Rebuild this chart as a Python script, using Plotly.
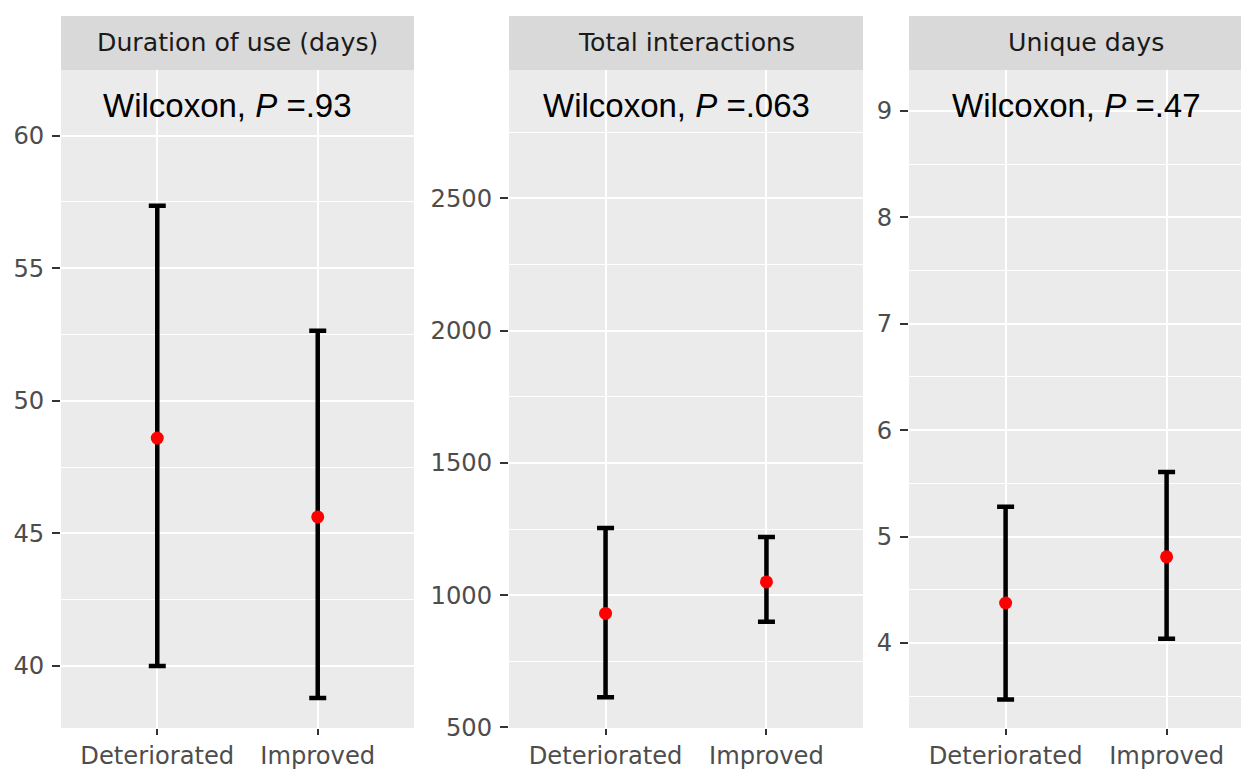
import plotly.graph_objects as go

# ---- data ----
categories = ["Deteriorated", "Improved"]
panel_titles = ["Duration of use (days)", "Total interactions", "Unique days"]
p_labels = ["Wilcoxon, <i>P</i> =.93", "Wilcoxon, <i>P</i> =.063", "Wilcoxon, <i>P</i> =.47"]

duration_mean = [48.59, 45.62]
duration_low = [40.0, 38.79]
duration_high = [57.35, 52.64]

interactions_mean = [931, 1050]
interactions_low = [614, 900]
interactions_high = [1254, 1220]

unique_mean = [4.376, 4.81]
unique_low = [3.47, 4.04]
unique_high = [5.28, 5.607]

duration_ticks = [40, 45, 50, 55, 60]
interactions_ticks = [500, 1000, 1500, 2000, 2500]
unique_ticks = [4, 5, 6, 7, 8, 9]

# ---- layout geometry (page pixels; the page body has an 8px margin) ----
OFF = 8
W, H = 1249 - OFF, 773 - OFF
def px_x(v):
    return (v - OFF) / W
def px_y(v):
    return (H - (v - OFF)) / H

x_domains = [[px_x(61), px_x(414)], [px_x(509), px_x(863)], [px_x(909), 1.0]]
y_domain = [px_y(728), px_y(70)]
x_ranges = [[0.4, 2.6], [0.4, 2.6], [0.4, 0.4 + 340 / 161]]
y_ranges = [[37.66, 62.47], [498, 2985], [3.201, 9.385]]
minor_dticks = [2.5, 250, 0.5]
ticks_list = [duration_ticks, interactions_ticks, unique_ticks]

series = [
    (duration_mean, duration_low, duration_high),
    (interactions_mean, interactions_low, interactions_high),
    (unique_mean, unique_low, unique_high),
]

fig = go.Figure()
xpos = [1, 2]
for i, (m, lo, hi) in enumerate(series):
    sfx = "" if i == 0 else str(i + 1)
    fig.add_trace(go.Scatter(
        x=xpos, y=m, mode="markers",
        marker=dict(color="#FF0000", size=13),
        error_y=dict(type="data", symmetric=False,
                     array=[h - v for h, v in zip(hi, m)],
                     arrayminus=[v - l for v, l in zip(m, lo)],
                     thickness=4.5, width=8.5, color="black"),
        xaxis="x" + sfx, yaxis="y" + sfx, showlegend=False, hoverinfo="skip",
    ))

tick_font = dict(family="DejaVu Sans", size=24.2, color="#4D4D4D")
layout = dict(
    width=W, height=H,
    margin=dict(l=0, r=0, t=0, b=0, pad=0, autoexpand=False),
    paper_bgcolor="white",
    plot_bgcolor="#EBEBEB",
    showlegend=False,
)
shapes = []
annotations = []
for i in range(3):
    sfx = "" if i == 0 else str(i + 1)
    layout["xaxis" + sfx] = dict(
        domain=x_domains[i], range=x_ranges[i], anchor="y" + sfx,
        tickmode="array", tickvals=xpos, ticktext=categories,
        showgrid=True, gridcolor="white", gridwidth=2.3,
        zeroline=False, showline=False, automargin=False,
        ticks="outside", ticklen=6, tickwidth=1.6, tickcolor="#333333",
        tickfont=tick_font, ticklabelstandoff=0, fixedrange=True,
    )
    layout["yaxis" + sfx] = dict(
        domain=y_domain, range=y_ranges[i], anchor="x" + sfx,
        tickmode="array", tickvals=ticks_list[i],
        showgrid=True, gridcolor="white", gridwidth=2.3,
        minor=dict(dtick=minor_dticks[i], tick0=0, showgrid=True,
                   gridcolor="white", gridwidth=1.2),
        zeroline=False, showline=False, automargin=False,
        ticks="outside", ticklen=8, tickwidth=1.6, tickcolor="#333333",
        tickfont=tick_font, ticklabelstandoff=3, fixedrange=True,
    )
    xr = "x" + sfx + " domain" if sfx else "x domain"
    shapes.append(dict(type="rect", xref=xr, yref="paper",
                       x0=0, x1=1, y0=px_y(70), y1=px_y(16),
                       fillcolor="#D9D9D9", line=dict(width=0), layer="below"))
    annotations.append(dict(
        xref=xr, yref="paper", x=0.52 if i == 2 else 0.5, y=px_y(43),
        text=panel_titles[i], showarrow=False, xanchor="center", yanchor="middle",
        font=dict(family="DejaVu Sans", size=25.2, color="#1A1A1A"),
    ))
    annotations.append(dict(
        xref="x" + sfx, yref="paper", x=1.44, y=px_y(105),
        text=p_labels[i], showarrow=False, xanchor="center", yanchor="middle",
        font=dict(family="Liberation Sans", size=33, color="black"),
    ))

layout["shapes"] = shapes
layout["annotations"] = annotations
fig.update_layout(**layout)
fig.write_html("out.html")
